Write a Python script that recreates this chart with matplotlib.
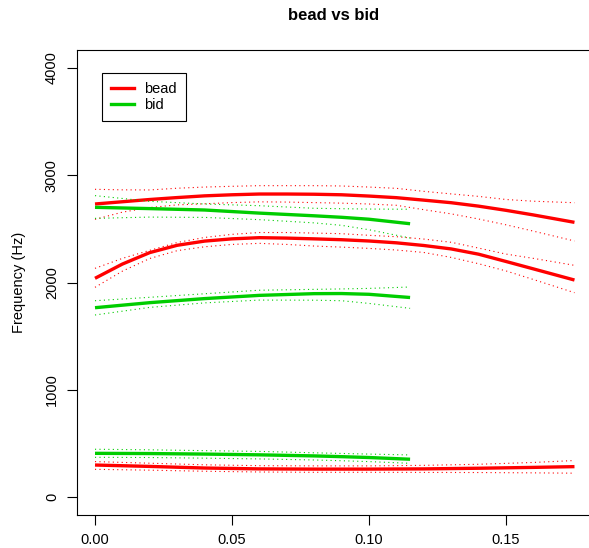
import numpy as np
import matplotlib.pyplot as plt
from matplotlib.lines import Line2D

plt.rcParams['font.family'] = ['Liberation Sans', 'DejaVu Sans']

# Zeit (s) und Formantwerte (Hz)
t_bead = [0.0, 0.01, 0.02, 0.03, 0.04, 0.05, 0.06, 0.07, 0.08, 0.09,
          0.10, 0.11, 0.12, 0.13, 0.14, 0.15, 0.16, 0.175]
bead_f2 = [2039, 2172, 2279, 2347, 2386, 2407, 2418, 2414, 2407, 2399,
           2387, 2370, 2345, 2313, 2264, 2196, 2127, 2023]
bead_f2_hi = [2132, 2225, 2300, 2373, 2420, 2449, 2466, 2466, 2461, 2455,
              2440, 2427, 2405, 2375, 2321, 2265, 2225, 2160]
bead_f2_lo = [1955, 2106, 2224, 2297, 2333, 2355, 2365, 2355, 2340, 2330,
              2318, 2303, 2280, 2234, 2175, 2108, 2028, 1905]
bead_f3 = [2732, 2753, 2774, 2792, 2808, 2818, 2825, 2825, 2823, 2818,
           2806, 2791, 2768, 2744, 2712, 2673, 2630, 2561]
bead_f3_hi = [2869, 2864, 2863, 2879, 2890, 2897, 2903, 2903, 2903, 2900,
              2890, 2878, 2850, 2826, 2803, 2774, 2758, 2744]
bead_f3_lo = [2589, 2656, 2699, 2724, 2734, 2745, 2752, 2750, 2745, 2740,
              2732, 2720, 2679, 2640, 2592, 2538, 2479, 2387]

t_bead_f1 = [0.0, 0.02, 0.04, 0.06, 0.08, 0.10, 0.12, 0.14, 0.16, 0.175]
bead_f1 = [298, 285, 270, 262, 260, 260, 262, 268, 276, 283]
bead_f1_hi = [330, 315, 300, 292, 290, 290, 295, 305, 322, 340]
bead_f1_lo = [258, 250, 240, 233, 230, 230, 229, 228, 225, 222]

t_bid = [0.0, 0.02, 0.04, 0.06, 0.08, 0.09, 0.10, 0.115]
bid_f1 = [407, 405, 400, 393, 383, 376, 368, 352]
bid_f1_hi = [445, 440, 432, 425, 412, 406, 400, 392]
bid_f1_lo = [370, 368, 362, 355, 345, 338, 330, 314]
bid_f2 = [1765, 1812, 1850, 1880, 1896, 1897, 1890, 1860]
bid_f2_hi = [1830, 1862, 1895, 1928, 1936, 1940, 1945, 1958]
bid_f2_lo = [1697, 1768, 1810, 1836, 1835, 1830, 1805, 1759]
bid_f3 = [2701, 2689, 2676, 2647, 2622, 2608, 2590, 2548]
bid_f3_hi = [2810, 2757, 2732, 2716, 2692, 2688, 2685, 2683]
bid_f3_lo = [2598, 2610, 2607, 2586, 2556, 2533, 2492, 2415]

rot = '#FF0000'
gruen = '#00CD00'

fig = plt.figure(figsize=(5.89, 5.48), dpi=100)
ax = fig.add_axes([77 / 589, 1 - 515 / 548, 1 - 77 / 589, (515 - 50) / 548])

kurven = [
    (t_bead_f1, bead_f1, bead_f1_hi, bead_f1_lo, rot),
    (t_bead, bead_f2, bead_f2_hi, bead_f2_lo, rot),
    (t_bead, bead_f3, bead_f3_hi, bead_f3_lo, rot),
    (t_bid, bid_f1, bid_f1_hi, bid_f1_lo, gruen),
    (t_bid, bid_f2, bid_f2_hi, bid_f2_lo, gruen),
    (t_bid, bid_f3, bid_f3_hi, bid_f3_lo, gruen),
]
for t, mitte, hi, lo, farbe in kurven:
    ax.plot(t, hi, color=farbe, lw=0.8, ls=(0, (1, 3)))
    ax.plot(t, lo, color=farbe, lw=0.8, ls=(0, (1, 3)))
    ax.plot(t, mitte, color=farbe, lw=2.4, solid_capstyle='butt',
            solid_joinstyle='round')

ax.set_xlim(-0.00657, 0.1803)
ax.set_ylim(-168, 4168)
ax.set_xticks([0.0, 0.05, 0.10, 0.15])
ax.set_xticklabels(['0.00', '0.05', '0.10', '0.15'])
ax.set_yticks([0, 1000, 2000, 3000, 4000])
ax.set_yticklabels(['0', '1000', '2000', '3000', '4000'], rotation=90, va='center')
ax.tick_params(length=7, width=0.8, labelsize=10.5, pad=6)
ax.spines['right'].set_visible(False)
for s in ['left', 'top', 'bottom']:
    ax.spines[s].set_linewidth(0.8)

ax.set_ylabel('Frequency (Hz)', fontsize=10.5, labelpad=14)
fig.text(334 / 589, 1 - 15 / 548, 'bead vs bid', ha='center', va='center',
         fontsize=12, fontweight='bold')

griffe = [Line2D([], [], color=rot, lw=2.4), Line2D([], [], color=gruen, lw=2.4)]
leg = ax.legend(griffe, ['bead', 'bid'], loc='upper left',
                bbox_to_anchor=((102 - 77) / 512, (515 - 73) / 465),
                fontsize=10.5, frameon=True, fancybox=False, edgecolor='black',
                framealpha=1, borderpad=0.6, handlelength=1.6, handletextpad=0.7,
                labelspacing=0.15, borderaxespad=0)
leg.get_frame().set_linewidth(0.8)

fig.savefig('out.png', dpi=100)
